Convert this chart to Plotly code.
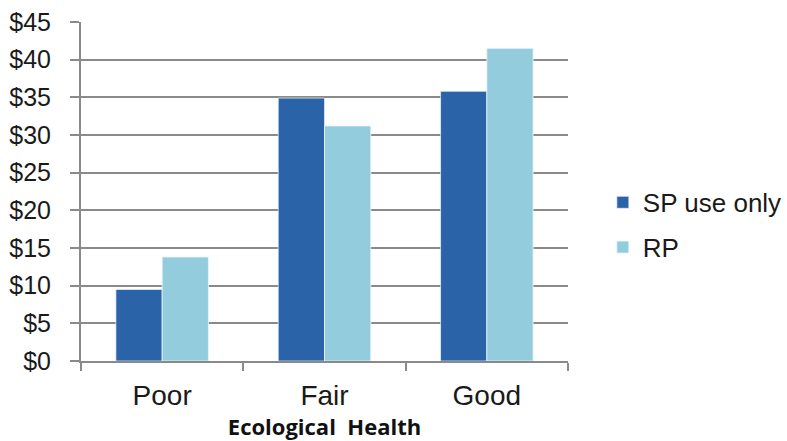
import plotly.graph_objects as go

categories = ["Poor", "Fair", "Good"]
sp_use_only = [9.5, 34.9, 35.8]
rp = [13.8, 31.2, 41.5]
y_ticks = [0, 5, 10, 15, 20, 25, 30, 35, 40, 45]
y_tick_labels = ["$" + str(v) for v in y_ticks]

TEXT = "#1a1a1a"
GRID = "#8a8a8a"

fig = go.Figure()
fig.add_trace(go.Bar(
    x=categories, y=sp_use_only, name="SP use only",
    marker=dict(color="#2B63A8", line=dict(color="rgba(235,242,250,0.7)", width=1)),
    legendgroup="a",
))
fig.add_trace(go.Bar(
    x=categories, y=rp, name="RP",
    marker=dict(color="#93CCDC", line=dict(color="rgba(235,245,250,0.8)", width=1)),
    legendgroup="b",
))

fig.update_layout(
    width=787, height=441,
    margin=dict(l=81, r=219, t=22, b=80, autoexpand=False),
    paper_bgcolor="white", plot_bgcolor="white",
    barmode="group", bargap=0.43, bargroupgap=0,
    font=dict(family="Liberation Sans, Arial", color=TEXT),
    legend=dict(
        xref="container", yref="container",
        x=0.766, xanchor="left", y=0.49, yanchor="middle",
        font=dict(size=26, family="Liberation Sans, Arial", color=TEXT),
        traceorder="grouped", tracegroupgap=8,
        itemwidth=30,
    ),
    showlegend=True,
)

fig.update_xaxes(
    showline=True, linecolor=GRID, linewidth=2,
    ticks="outside", tickson="boundaries", ticklen=8, tickwidth=2, tickcolor=GRID,
    ticklabelstandoff=8,
    tickfont=dict(size=28, family="Liberation Sans, Arial", color=TEXT),
    title=dict(text="<b>Ecological  Health</b>",
               font=dict(size=22, family="Open Sans, Liberation Sans", color="#111"),
               standoff=6),
    showgrid=False,
)
fig.update_yaxes(
    range=[0, 45], tickvals=y_ticks, ticktext=y_tick_labels,
    showline=True, linecolor=GRID, linewidth=2,
    ticks="outside", ticklen=9, tickwidth=2, tickcolor=GRID,
    ticklabelstandoff=14,
    showgrid=True, gridcolor=GRID, gridwidth=2,
    zeroline=False,
    tickfont=dict(size=25, family="Liberation Sans, Arial", color=TEXT),
)

fig.write_html("out.html")
